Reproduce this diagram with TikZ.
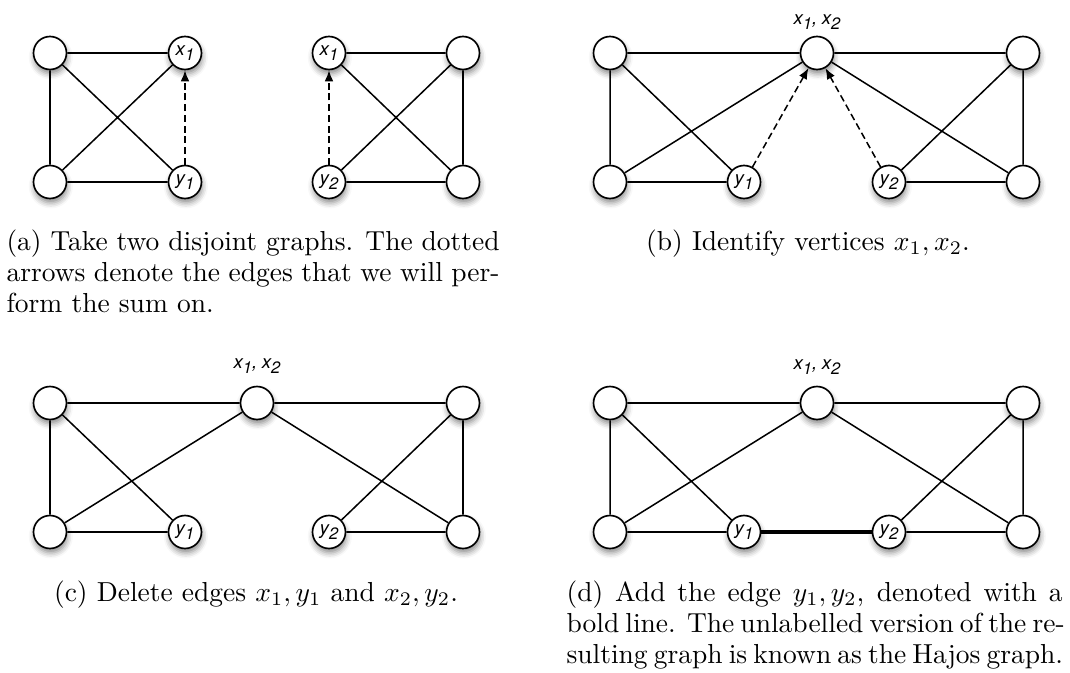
\documentclass[tikz,border=0pt]{standalone}
\usepackage{fontspec}
\newfontfamily\heros{TeX Gyre Heros}
\usetikzlibrary{arrows.meta,shadows.blur}
\newcommand\vl[2]{{\heros\itshape\fontsize{6.8}{8}\selectfont #1\raisebox{-0.45ex}{\fontsize{6}{7}\selectfont #2}}}
\newcommand\fullline[1]{\hbox to \linewidth{#1}}
\tikzset{
  v/.style={circle, draw=black, line width=0.6pt, fill=white, minimum size=12pt, inner sep=0pt,
    blur shadow={shadow xshift=0.3pt, shadow yshift=-1.6pt, shadow blur radius=2pt, shadow opacity=45}},
  ed/.style={line width=0.55pt},
  bolded/.style={line width=1.6pt},
  dar/.style={line width=0.55pt, dash pattern=on 2.5pt off 1.4pt, -{Latex[length=4pt,width=3.2pt]}},
  lab/.style={inner sep=0pt},
  captext/.style={inner sep=0pt, font=\fontsize{10}{11.3}\selectfont},
}
\begin{document}
\begin{tikzpicture}[x=0.36364pt, y=-0.36364pt]
\useasboundingbox (0,0) rectangle (1070,673);
% ---------- (a) ----------
\node[v] (aA) at (50,53) {};
\node[v] (aB) at (185,53) {\vl{x}{1}};
\node[v] (aC) at (50,182) {};
\node[v] (aD) at (185,182) {\vl{y}{1}};
\draw[ed] (aA) -- (aB) (aA) -- (aC) (aA) -- (aD) (aC) -- (aB) (aC) -- (aD);
\draw[dar] (aD) -- (aB);
\node[v] (aX) at (329,53) {\vl{x}{1}};
\node[v] (aE) at (463,53) {};
\node[v] (aY) at (329,182) {\vl{y}{2}};
\node[v] (aF) at (463,182) {};
\draw[ed] (aX) -- (aE) (aX) -- (aF) (aY) -- (aE) (aY) -- (aF) (aE) -- (aF);
\draw[dar] (aY) -- (aX);
\node[captext, anchor=base west] (capa) at (6,250)
  {\parbox[t]{179.3pt}{\fontsize{10}{11.3}\selectfont\fullline{(a) Take two disjoint graphs. The dotted}\par
   \fullline{arrows denote the edges that we will per-}\par
   \noindent form the sum on.}};
% ---------- (b) ----------
\node[v] (bA) at (610,53) {};
\node[v] (bX) at (817,53) {};
\node[v] (bE) at (1023,53) {};
\node[v] (bC) at (610,182) {};
\node[v] (bY1) at (744,182) {\vl{y}{1}};
\node[v] (bY2) at (889,182) {\vl{y}{2}};
\node[v] (bF) at (1023,182) {};
\node[lab] (bL) at (817,22) {\vl{x}{1}\vl{,}{}\,\vl{x}{2}};
\draw[ed] (bA) -- (bX) (bX) -- (bE) (bA) -- (bC) (bA) -- (bY1) (bC) -- (bX) (bC) -- (bY1)
  (bX) -- (bF) (bY2) -- (bE) (bY2) -- (bF) (bE) -- (bF);
\draw[dar] (bY1) -- (bX);
\draw[dar] (bY2) -- (bX);
\node[captext, anchor=base] (capb) at (808,250) {(b) Identify vertices $x_1, x_2$.};
% ---------- (c) ----------
\node[v] (cA) at (50,403) {};
\node[v] (cX) at (257,403) {};
\node[v] (cE) at (463,403) {};
\node[v] (cC) at (50,532) {};
\node[v] (cY1) at (185,532) {\vl{y}{1}};
\node[v] (cY2) at (329,532) {\vl{y}{2}};
\node[v] (cF) at (463,532) {};
\node[lab] (cL) at (257,366) {\vl{x}{1}\vl{,}{}\,\vl{x}{2}};
\draw[ed] (cA) -- (cX) (cX) -- (cE) (cA) -- (cC) (cA) -- (cY1) (cC) -- (cX) (cC) -- (cY1)
  (cX) -- (cF) (cY2) -- (cE) (cY2) -- (cF) (cE) -- (cF);
\node[captext, anchor=base] (capc) at (256,601) {(c) Delete edges $x_1, y_1$ and $x_2, y_2$.};
% ---------- (d) ----------
\node[v] (dA) at (610,403) {};
\node[v] (dX) at (817,403) {};
\node[v] (dE) at (1023,403) {};
\node[v] (dC) at (610,532) {};
\node[v] (dY1) at (744,532) {\vl{y}{1}};
\node[v] (dY2) at (889,532) {\vl{y}{2}};
\node[v] (dF) at (1023,532) {};
\node[lab] (dL) at (817,367) {\vl{x}{1}\vl{,}{}\,\vl{x}{2}};
\draw[ed] (dA) -- (dX) (dX) -- (dE) (dA) -- (dC) (dA) -- (dY1) (dC) -- (dX) (dC) -- (dY1)
  (dX) -- (dF) (dY2) -- (dE) (dY2) -- (dF) (dE) -- (dF);
\draw[bolded] (dY1) -- (dY2);
\node[captext, anchor=base west] (capd) at (566,601)
  {\parbox[t]{180.4pt}{\fontsize{10}{11.3}\selectfont\fullline{(d) Add the edge $y_1, y_2$, denoted with a}\par
   \fullline{bold line. The unlabelled version of the re-}\par
   \fullline{sulting graph is known as the Hajos graph.}}};
\end{tikzpicture}
\end{document}
